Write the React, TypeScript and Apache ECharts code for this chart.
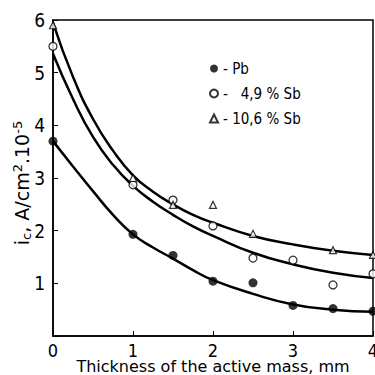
import React, { useEffect, useRef } from "react";
import * as echarts from "echarts";

// Measured points
const pbX = [0, 1, 1.5, 2, 2.5, 3, 3.5, 4];
const pbY = [3.7, 1.93, 1.53, 1.04, 1.01, 0.58, 0.52, 0.47];
const sb49X = [0, 1, 1.5, 2, 2.5, 3, 3.5, 4];
const sb49Y = [5.5, 2.87, 2.58, 2.09, 1.48, 1.44, 0.97, 1.18];
const sb106X = [0, 1, 1.5, 2, 2.5, 3.5, 4];
const sb106Y = [5.9, 3.0, 2.49, 2.49, 1.94, 1.63, 1.54];

// Fitted curves
const curveX = [0, 0.25, 0.5, 0.75, 1, 1.25, 1.5, 1.75, 2, 2.5, 3, 3.5, 4];
const pbCurve = [3.7, 3.22, 2.75, 2.3, 1.93, 1.68, 1.47, 1.25, 1.06, 0.8, 0.6, 0.5, 0.46];
const sb49Curve = [5.36, 4.5, 3.78, 3.25, 2.85, 2.55, 2.3, 2.08, 1.9, 1.58, 1.36, 1.2, 1.1];
const sb106Curve = [5.95, 4.92, 4.12, 3.52, 3.05, 2.74, 2.5, 2.3, 2.15, 1.9, 1.74, 1.62, 1.54];

const seriesNames = ["Pb", "4,9 % Sb", "10,6 % Sb"];
const xTicks = [0, 1, 2, 3, 4];
const yTicks = [0, 1, 2, 3, 4, 5, 6];
const xTitle = "Thickness of the active mass, mm";
const yTitle = "{n|i}{sub|c}{n|, A/cm}{sup|2}{n|.10}{sup|-5}";

const zip = (xs: number[], ys: number[]) => xs.map((x, i) => [x, ys[i]]);

export default function App() {
  const ref = useRef<HTMLDivElement>(null);
  useEffect(() => {
    if (!ref.current) return;
    const chart = echarts.init(ref.current, undefined, { renderer: "svg" });
    const font = "'DejaVu Sans Condensed', 'DejaVu Sans', sans-serif";
    const wide = "'DejaVu Sans', sans-serif";
    const curve = (data: number[]) => ({
      type: "line",
      data: zip(curveX, data),
      smooth: 0.5,
      symbol: "none",
      lineStyle: { color: "#000", width: 2.5 },
      silent: true,
      z: 2,
    });
    chart.setOption({
      animation: false,
      backgroundColor: "#fff",
      grid: {
        left: 53,
        right: 2,
        top: 20,
        bottom: 39,
        containLabel: false,
        outerBoundsMode: "none",
        show: true,
        borderColor: "#000",
        borderWidth: 1.5,
      },
      legend: {
        orient: "vertical",
        left: 204,
        top: 55,
        itemWidth: 8,
        itemHeight: 8,
        itemGap: 8,
        data: seriesNames,
        formatter: (n: string) => (n === seriesNames[1] ? "-   " + n : "- " + n),
        textStyle: { fontFamily: font, fontSize: 15, color: "#000", lineHeight: 17 },
      },
      graphic: [
        {
          type: "text",
          x: 213,
          y: 366,
          style: {
            text: xTitle,
            fontFamily: wide,
            fontSize: 16,
            fill: "#000",
            align: "center",
            verticalAlign: "middle",
          },
        },
        {
          type: "text",
          x: 21,
          y: 183,
          rotation: Math.PI / 2,
          style: {
            text: yTitle,
            fill: "#000",
            align: "center",
            verticalAlign: "middle",
            rich: {
              n: { fontFamily: wide, fontSize: 19, fill: "#000", lineHeight: 20, verticalAlign: "bottom" },
              sub: { fontFamily: wide, fontSize: 13, fill: "#000", lineHeight: 20, verticalAlign: "bottom", padding: [0, 0, -2, 0] },
              sup: { fontFamily: wide, fontSize: 13, fill: "#000", lineHeight: 20, verticalAlign: "top" },
            },
          },
        },
      ],
      xAxis: {
        type: "value",
        min: xTicks[0],
        max: xTicks[xTicks.length - 1],
        interval: 1,
        axisLine: { show: true, lineStyle: { color: "#000", width: 1.5 } },
        axisTick: { show: true, inside: true, length: 5, lineStyle: { color: "#000" } },
        splitLine: { show: false },
        axisLabel: { fontFamily: font, fontSize: 18, color: "#000", margin: 5, lineHeight: 18 },
      },
      yAxis: {
        type: "value",
        min: yTicks[0],
        max: yTicks[yTicks.length - 1],
        interval: 1,
        axisLine: { show: true, lineStyle: { color: "#000", width: 1.5 } },
        axisTick: { show: true, inside: true, length: 5, lineStyle: { color: "#000" } },
        splitLine: { show: false },
        axisLabel: {
          fontFamily: font,
          fontSize: 19,
          color: "#000",
          margin: 8,
          formatter: (v: number) => (v === 0 ? "" : String(v)),
        },
      },
      series: [
        curve(pbCurve),
        curve(sb49Curve),
        curve(sb106Curve),
        {
          name: seriesNames[0],
          type: "scatter",
          data: zip(pbX, pbY),
          symbol: "circle",
          symbolSize: 9,
          itemStyle: { color: "#000" },
          z: 3,
        },
        {
          name: seriesNames[1],
          type: "scatter",
          data: zip(sb49X, sb49Y),
          symbol: "circle",
          symbolSize: 8,
          itemStyle: { color: "#fff", borderColor: "#000", borderWidth: 1.3 },
          z: 3,
        },
        {
          name: seriesNames[2],
          type: "scatter",
          data: zip(sb106X, sb106Y),
          symbol: "triangle",
          symbolSize: 7,
          itemStyle: { color: "#fff", borderColor: "#000", borderWidth: 1.2 },
          z: 3,
        },
      ],
    });
    return () => chart.dispose();
  }, []);
  return (
    <div
      ref={ref}
      style={{ position: "fixed", left: 0, top: 0, width: 375, height: 375, background: "#fff" }}
    />
  );
}
